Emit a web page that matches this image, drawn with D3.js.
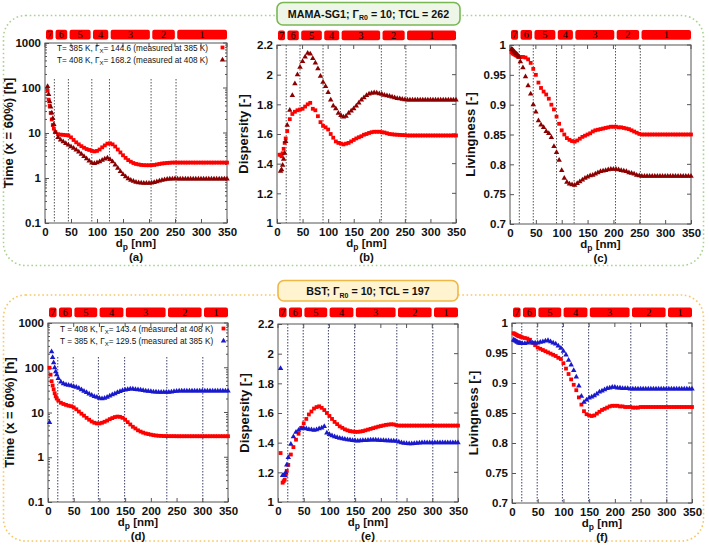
<!DOCTYPE html>
<html><head><meta charset="utf-8">
<script src="https://cdn.jsdelivr.net/npm/d3@7"></script>
<style>
body{margin:0;background:#fff}
svg{display:block}
text{font-family:"Liberation Sans",Arial,Helvetica,sans-serif}
</style>
</head><body>
<svg id="chart" width="709" height="545"></svg>
<script>
// ---------- DATA ----------
const dp = [3,5,7,9,11,13,15,17,20,25,30,35,40,45,50,55,60,65,70,75,80,85,90,95,100,105,110,115,120,125,130,135,140,145,150,155,160,165,170,175,180,185,190,195,200,205,210,215,220,225,230,235,240,245,250,255,260,265,270,275,280,285,290,295,300,305,310,315,320,325,330,335,340,345,350];
const bandLabels = ["7","6","5","4","3","2","1"];
const bandBoundsTop = [18,45,90,124,204,252];
const bandBoundsBottom = [19,49,98,149,231,301];
const xTicks = [0,50,100,150,200,250,300,350];
const timeTicks = [0.1,1,10,100,1000];
const dispTicks = [1,1.2,1.4,1.6,1.8,2,2.2];
const livTicks = [0.7,0.75,0.8,0.85,0.9,0.95,1];

// MAMA-SG1
const timeA385 = [null,87,55,40,28,20,15,12.5,10.5,9.4,9.2,9.1,9.0,8.8,8.0,7.0,6.2,5.6,5.1,4.7,4.4,4.2,4.0,3.9,4.0,4.3,4.8,5.3,5.8,5.9,5.6,5.0,4.3,3.7,3.2,2.8,2.5,2.3,2.15,2.05,2.0,1.95,1.93,1.92,1.92,1.93,1.95,2.0,2.05,2.1,2.13,2.16,2.18,2.2,2.2,2.2,2.2,2.2,2.2,2.2,2.2,2.2,2.2,2.2,2.2,2.2,2.2,2.2,2.2,2.2,2.2,2.2,2.2,2.2,2.2];
const timeA408 = [null,108,72,50,38,28,21,15.5,10.5,8.0,7.0,6.4,5.9,5.4,5.0,4.6,4.2,3.8,3.4,3.0,2.7,2.4,2.15,2.1,2.2,2.3,2.5,2.65,2.8,2.6,2.3,1.95,1.65,1.4,1.2,1.07,0.97,0.9,0.85,0.81,0.79,0.78,0.77,0.77,0.77,0.78,0.8,0.83,0.86,0.89,0.92,0.94,0.95,0.96,0.97,0.96,0.96,0.96,0.96,0.96,0.96,0.96,0.96,0.96,0.96,0.96,0.96,0.96,0.96,0.96,0.96,0.96,0.96,0.96,0.96];
const dispB385 = [null,1.46,1.46,1.45,1.47,1.5,1.54,1.57,1.62,1.7,1.735,1.75,1.76,1.765,1.77,1.785,1.8,1.81,1.77,1.76,1.72,1.68,1.655,1.645,1.63,1.6,1.575,1.55,1.54,1.535,1.53,1.535,1.54,1.55,1.56,1.57,1.578,1.585,1.595,1.6,1.607,1.612,1.615,1.615,1.615,1.612,1.61,1.605,1.6,1.598,1.596,1.595,1.594,1.593,1.592,1.59,1.59,1.59,1.59,1.59,1.59,1.59,1.59,1.59,1.59,1.59,1.59,1.59,1.59,1.59,1.59,1.59,1.59,1.59,1.59];
const dispB408 = [null,null,1.35,1.36,1.39,1.43,1.47,1.55,1.66,1.76,1.86,1.94,2.0,2.05,2.09,2.12,2.145,2.14,2.11,2.08,2.04,1.99,1.95,1.92,1.88,1.83,1.79,1.77,1.74,1.725,1.715,1.72,1.74,1.755,1.77,1.79,1.81,1.83,1.845,1.86,1.87,1.875,1.878,1.877,1.872,1.868,1.862,1.858,1.855,1.85,1.845,1.84,1.838,1.835,1.832,1.83,1.83,1.83,1.83,1.83,1.83,1.83,1.83,1.83,1.83,1.83,1.83,1.83,1.83,1.83,1.83,1.83,1.83,1.83,1.83];
const livC385 = [0.988,0.986,0.985,0.984,0.983,0.982,0.981,0.98,0.98,0.98,0.979,0.976,0.97,0.96,0.95,0.937,0.928,0.922,0.917,0.91,0.9,0.892,0.88,0.868,0.857,0.85,0.844,0.841,0.839,0.838,0.84,0.843,0.846,0.848,0.85,0.852,0.855,0.857,0.858,0.859,0.86,0.861,0.862,0.863,0.863,0.863,0.862,0.862,0.861,0.86,0.859,0.857,0.855,0.853,0.851,0.85,0.85,0.85,0.85,0.85,0.85,0.85,0.85,0.85,0.85,0.85,0.85,0.85,0.85,0.85,0.85,0.85,0.85,0.85,0.85];
const livC408 = [0.993,0.992,0.99,0.988,0.986,0.985,0.983,0.98,0.972,0.962,0.947,0.932,0.918,0.9,0.888,0.873,0.866,0.862,0.855,0.852,0.845,0.83,0.82,0.807,0.79,0.777,0.77,0.767,0.766,0.765,0.768,0.771,0.774,0.777,0.779,0.781,0.782,0.784,0.786,0.788,0.789,0.79,0.791,0.792,0.792,0.792,0.791,0.79,0.789,0.788,0.786,0.785,0.784,0.782,0.781,0.78,0.78,0.78,0.78,0.78,0.78,0.78,0.78,0.78,0.78,0.78,0.78,0.78,0.78,0.78,0.78,0.78,0.78,0.78,0.78];

// BST
const timeD408 = [100,70,50,40,33,27,23,20.5,18.5,16.5,15.5,14.8,14.2,13.8,13,11.8,10.5,9.4,8.5,7.6,6.9,6.3,5.9,5.7,5.7,5.9,6.2,6.6,7.1,7.5,7.9,8.1,8.0,7.6,6.9,6.1,5.4,4.8,4.4,4.0,3.75,3.55,3.4,3.3,3.2,3.12,3.06,3.02,3.0,2.98,2.97,2.96,2.96,2.96,2.95,2.95,2.95,2.95,2.95,2.95,2.95,2.95,2.95,2.95,2.95,2.95,2.95,2.95,2.95,2.95,2.95,2.95,2.95,2.95,2.95];
const timeD385 = [6.0,null,230,170,130,100,82,70,58,48,44,42,41,40,38.5,37,35,32.5,30,28,26,24.5,23,22,21,20.5,21,22,23.5,25,26.5,28,29.5,31,32,33,33.5,33.5,33,32.5,32,31,30.5,30,29.5,29,28.8,28.6,28.4,28.3,28.3,28.5,29,29.5,30,30.3,30.5,30.5,30.5,30.5,30.5,30.5,30.5,30.5,30.5,30.5,30.5,30.5,30.5,30.5,30.5,30.5,30.5,30.5,30.5];
const dispE408 = [null,1.33,null,1.13,1.14,1.15,1.18,1.21,1.25,1.32,1.37,1.42,1.46,1.5,1.53,1.56,1.59,1.61,1.63,1.64,1.645,1.635,1.62,1.6,1.58,1.56,1.54,1.525,1.51,1.5,1.49,1.483,1.478,1.475,1.473,1.473,1.475,1.478,1.483,1.488,1.493,1.498,1.503,1.508,1.512,1.516,1.52,1.522,1.524,1.523,1.518,1.515,1.515,1.515,1.515,1.515,1.515,1.515,1.515,1.515,1.515,1.515,1.515,1.515,1.515,1.515,1.515,1.515,1.515,1.515,1.515,1.515,1.515,1.515,1.515];
const dispE385 = [null,1.9,null,1.18,1.18,1.18,1.2,1.25,1.3,1.39,1.44,1.47,1.485,1.495,1.497,1.495,1.49,1.487,1.485,1.487,1.495,1.5,1.51,1.465,1.455,1.447,1.44,1.435,1.43,1.427,1.423,1.42,1.418,1.415,1.413,1.412,1.413,1.415,1.416,1.417,1.418,1.418,1.418,1.417,1.416,1.415,1.414,1.413,1.412,1.412,1.41,1.405,1.4,1.397,1.395,1.394,1.394,1.395,1.396,1.398,1.4,1.4,1.4,1.4,1.4,1.4,1.4,1.4,1.4,1.4,1.4,1.4,1.4,1.4,1.4];
const livF408 = [0.983,0.982,0.981,0.98,0.979,0.978,0.978,0.977,0.976,0.975,0.974,0.972,0.967,0.963,0.959,0.957,0.955,0.953,0.951,0.949,0.947,0.945,0.942,0.94,0.933,0.924,0.915,0.906,0.897,0.888,0.876,0.864,0.853,0.848,0.846,0.845,0.846,0.849,0.852,0.855,0.857,0.859,0.861,0.862,0.862,0.862,0.861,0.861,0.86,0.86,0.86,0.859,0.859,0.859,0.86,0.86,0.86,0.86,0.86,0.86,0.86,0.86,0.86,0.86,0.86,0.86,0.86,0.86,0.86,0.86,0.86,0.86,0.86,0.86,0.86];
const livF385 = [0.972,0.971,0.97,0.969,0.968,0.967,0.967,0.966,0.966,0.966,0.967,0.968,0.967,0.967,0.967,0.968,0.969,0.97,0.971,0.969,0.967,0.965,0.962,0.958,0.953,0.947,0.938,0.93,0.921,0.91,0.895,0.878,0.868,0.872,0.875,0.877,0.879,0.882,0.885,0.887,0.889,0.891,0.892,0.893,0.893,0.892,0.892,0.891,0.891,0.891,0.89,0.89,0.89,0.89,0.89,0.89,0.89,0.89,0.89,0.89,0.89,0.89,0.89,0.89,0.89,0.89,0.89,0.89,0.89,0.89,0.89,0.89,0.89,0.89,0.89];

// ---------- DRAW ----------
const RED = "#ff0000", DARK = "#8b0000", BLUE = "#1a1acc";
const svg = d3.select("#chart");

function groupFrame(y, h, color) {
  svg.append("rect").attr("x", 3.5).attr("y", y).attr("width", 700).attr("height", h)
    .attr("rx", 22).attr("fill", "none").attr("stroke", color)
    .attr("stroke-width", 1.6).attr("stroke-dasharray", "1.6,2.6");
}
groupFrame(15.5, 250, "#a9d38e");
groupFrame(295, 246, "#f7c766");

function titleBox(x, y, w, h, fill, stroke, main, sub, rest, ty) {
  svg.append("rect").attr("x", x).attr("y", y).attr("width", w).attr("height", h)
    .attr("rx", 6).attr("fill", fill).attr("stroke", stroke).attr("stroke-width", 1.6);
  const t = svg.append("text").attr("x", x + w / 2).attr("y", ty).attr("text-anchor", "middle")
    .attr("font-weight", "bold").attr("font-size", 10.7).attr("fill", "#111");
  t.append("tspan").text(main);
  t.append("tspan").attr("font-size", 7).attr("dy", 2.5).text(sub);
  t.append("tspan").attr("dy", -2.5).text(rest);
}
titleBox(277, 2.5, 183, 22.5, "#eef6e7", "#79b755", "MAMA-SG1; \u0393", "R0", " = 10; TCL = 262", 17.5);
titleBox(278, 280.5, 180, 20.5, "#fff3d0", "#efb844", "BST; \u0393", "R0", " = 10; TCL = 197", 295);

function panel(c) {
  const g = svg.append("g");
  const x = d3.scaleLinear().domain([0, 350]).range([c.L, c.R]);
  const y = c.log ? d3.scaleLog().domain([0.1, 1000]).range([c.B, c.T])
                  : d3.scaleLinear().domain(c.domain).range([c.B, c.T]);
  const edges = [0, ...c.bounds, 350];
  bandLabels.forEach((lab, i) => {
    const x0 = x(edges[i]) + (i === 0 ? 1 : 1.2), x1 = x(edges[i + 1]) - (i === 6 ? 0 : 1.2);
    g.append("rect").attr("x", x0).attr("y", c.bandY).attr("width", x1 - x0).attr("height", 9.8)
      .attr("rx", 2).attr("fill", RED);
    g.append("text").attr("x", (x0 + x1) / 2).attr("y", c.bandY + 8.4).attr("text-anchor", "middle")
      .style("font-family", "'Liberation Serif','Times New Roman',serif").attr("font-size", 10.5)
      .style("fill", "#000").text(lab);
  });
  c.bounds.forEach(b => {
    g.append("line").attr("x1", x(b)).attr("x2", x(b)).attr("y1", c.lineTop || c.T).attr("y2", c.B)
      .attr("stroke", c.lineColor).attr("stroke-width", 1).attr("stroke-dasharray", "1.5,1.5");
  });
  g.append("rect").attr("x", c.L).attr("y", c.T).attr("width", c.R - c.L).attr("height", c.B - c.T)
    .attr("fill", "none").attr("stroke", "#555").attr("stroke-width", 1);
  const fs = 11.5;
  const xa = g.append("g").attr("transform", `translate(0,${c.B})`)
    .call(d3.axisBottom(x).tickValues(xTicks).tickSize(-4).tickPadding(5).tickFormat(d3.format("d")));
  const ya = g.append("g").attr("transform", `translate(${c.L},0)`)
    .call(d3.axisLeft(y).tickValues(c.ticks).tickSize(-4).tickPadding(4).tickFormat(d => String(d)));
  [xa, ya].forEach(a => {
    a.select(".domain").remove();
    a.selectAll("line").attr("stroke", "#555");
    a.selectAll("text").attr("font-size", fs).attr("font-weight", "bold").attr("fill", "#111")
      .attr("font-family", "'Liberation Sans',Arial,sans-serif");
  });
  xTicks.forEach(v => g.append("line").attr("x1", x(v)).attr("x2", x(v)).attr("y1", c.T).attr("y2", c.T + 4).attr("stroke", "#555"));
  c.ticks.forEach(v => g.append("line").attr("x1", c.R).attr("x2", c.R - 4).attr("y1", y(v)).attr("y2", y(v)).attr("stroke", "#555"));
  if (c.log) {
    const minors = [];
    [0.1, 1, 10, 100].forEach(d => [2,3,4,5,6,7,8,9].forEach(m => minors.push(d * m)));
    minors.forEach(v => {
      g.append("line").attr("x1", c.L).attr("x2", c.L + 2).attr("y1", y(v)).attr("y2", y(v)).attr("stroke", "#555");
      g.append("line").attr("x1", c.R).attr("x2", c.R - 2).attr("y1", y(v)).attr("y2", y(v)).attr("stroke", "#555");
    });
  }
  g.append("text").attr("transform", `translate(${c.ytx + 0.35 * 13},${(c.T + c.B) / 2}) rotate(-90)`)
    .attr("text-anchor", "middle").attr("font-size", 13).attr("font-weight", "bold").attr("fill", "#111")
    .text(c.ytitle);
  const xt = g.append("text").attr("x", (c.L + c.R) / 2).attr("y", c.B + 24).attr("text-anchor", "middle")
    .attr("font-size", 11.5).attr("font-weight", "bold").attr("fill", "#111");
  xt.append("tspan").text("d");
  xt.append("tspan").attr("font-size", 8.5).attr("dy", 3).text("p");
  xt.append("tspan").attr("dy", -3).text(" [nm]");
  g.append("text").attr("x", (c.L + c.R) / 2).attr("y", c.B + 38).attr("text-anchor", "middle")
    .attr("font-size", 11.5).attr("font-weight", "bold").attr("fill", "#111").text(c.tag);

  if (c.legend) {
    c.legend.forEach((l, i) => {
      const ly = c.legY[i];
      const t = g.append("text").attr("x", c.L + 12).attr("y", ly + 3).attr("font-size", 8.2).attr("fill", "#111");
      t.append("tspan").text(l.a);
      t.append("tspan").attr("font-size", 6).attr("dy", 2).text("X");
      t.append("tspan").attr("dy", -2).text(l.b);
      drawMark(g, l.shape, l.color, c.R - 4.5, ly);
    });
  }
  c.series.forEach(s => {
    s.values.forEach((v, i) => {
      if (v === null) return;
      drawMark(g, s.shape, s.color, x(dp[i]), y(v));
    });
  });
}

const triPath = d3.symbol(d3.symbolTriangle, 13)();
function drawMark(g, shape, color, px, py) {
  if (shape === "sq") {
    g.append("rect").attr("x", px - 1.9).attr("y", py - 1.9).attr("width", 3.8).attr("height", 3.8).attr("fill", color);
  } else {
    g.append("path").attr("d", triPath).attr("transform", `translate(${px},${py})`).attr("fill", color);
  }
}

const topLine = "#555", botLine = "#3a3f66";
panel({L:45, R:227, T:43, B:223, log:true, ticks:timeTicks, bounds:bandBoundsTop, bandY:29.8, lineColor:topLine,
  lineTop:79, ytx:8, ytitle:"Time (x = 60%) [h]", tag:"(a)", legY:[47.5,60],
  legend:[{a:"T= 385 K, \u0393", b:"= 144.6 (measured at 385 K)", shape:"sq", color:RED},
          {a:"T= 408 K, \u0393", b:"= 168.2 (measured at 408 K)", shape:"tri", color:DARK}],
  series:[{values:timeA385, shape:"sq", color:RED},{values:timeA408, shape:"tri", color:DARK}]});
panel({L:277, R:456, T:45, B:223, log:false, domain:[1,2.2], ticks:dispTicks, bounds:bandBoundsTop, bandY:30.5, lineColor:topLine,
  ytx:243, ytitle:"Dispersity [-]", tag:"(b)",
  series:[{values:dispB385, shape:"sq", color:RED},{values:dispB408, shape:"tri", color:DARK}]});
panel({L:510, R:691, T:45, B:224, log:false, domain:[0.7,1], ticks:livTicks, bounds:bandBoundsTop, bandY:30, lineColor:topLine,
  ytx:470, ytitle:"Livingness [-]", tag:"(c)",
  series:[{values:livC385, shape:"sq", color:RED},{values:livC408, shape:"tri", color:DARK}]});
panel({L:48, R:228, T:323, B:502, log:true, ticks:timeTicks, bounds:bandBoundsBottom, bandY:307.5, lineColor:botLine,
  lineTop:357, ytx:9, ytitle:"Time (x = 60%) [h]", tag:"(d)", legY:[328.5,341],
  legend:[{a:"T = 408 K, \u0393", b:"= 143.4 (measured at 408 K)", shape:"sq", color:RED},
          {a:"T = 385 K, \u0393", b:"= 129.5 (measured at 385 K)", shape:"tri", color:BLUE}],
  series:[{values:timeD408, shape:"sq", color:RED},{values:timeD385, shape:"tri", color:BLUE}]});
panel({L:278, R:458, T:324, B:502, log:false, domain:[1,2.2], ticks:dispTicks, bounds:bandBoundsBottom, bandY:307.5, lineColor:botLine,
  ytx:244, ytitle:"Dispersity [-]", tag:"(e)",
  series:[{values:dispE408, shape:"sq", color:RED},{values:dispE385, shape:"tri", color:BLUE}]});
panel({L:512, R:692, T:323, B:503, log:false, domain:[0.7,1], ticks:livTicks, bounds:bandBoundsBottom, bandY:307.5, lineColor:botLine,
  ytx:473, ytitle:"Livingness [-]", tag:"(f)",
  series:[{values:livF408, shape:"sq", color:RED},{values:livF385, shape:"tri", color:BLUE}]});
</script>
</body></html>
